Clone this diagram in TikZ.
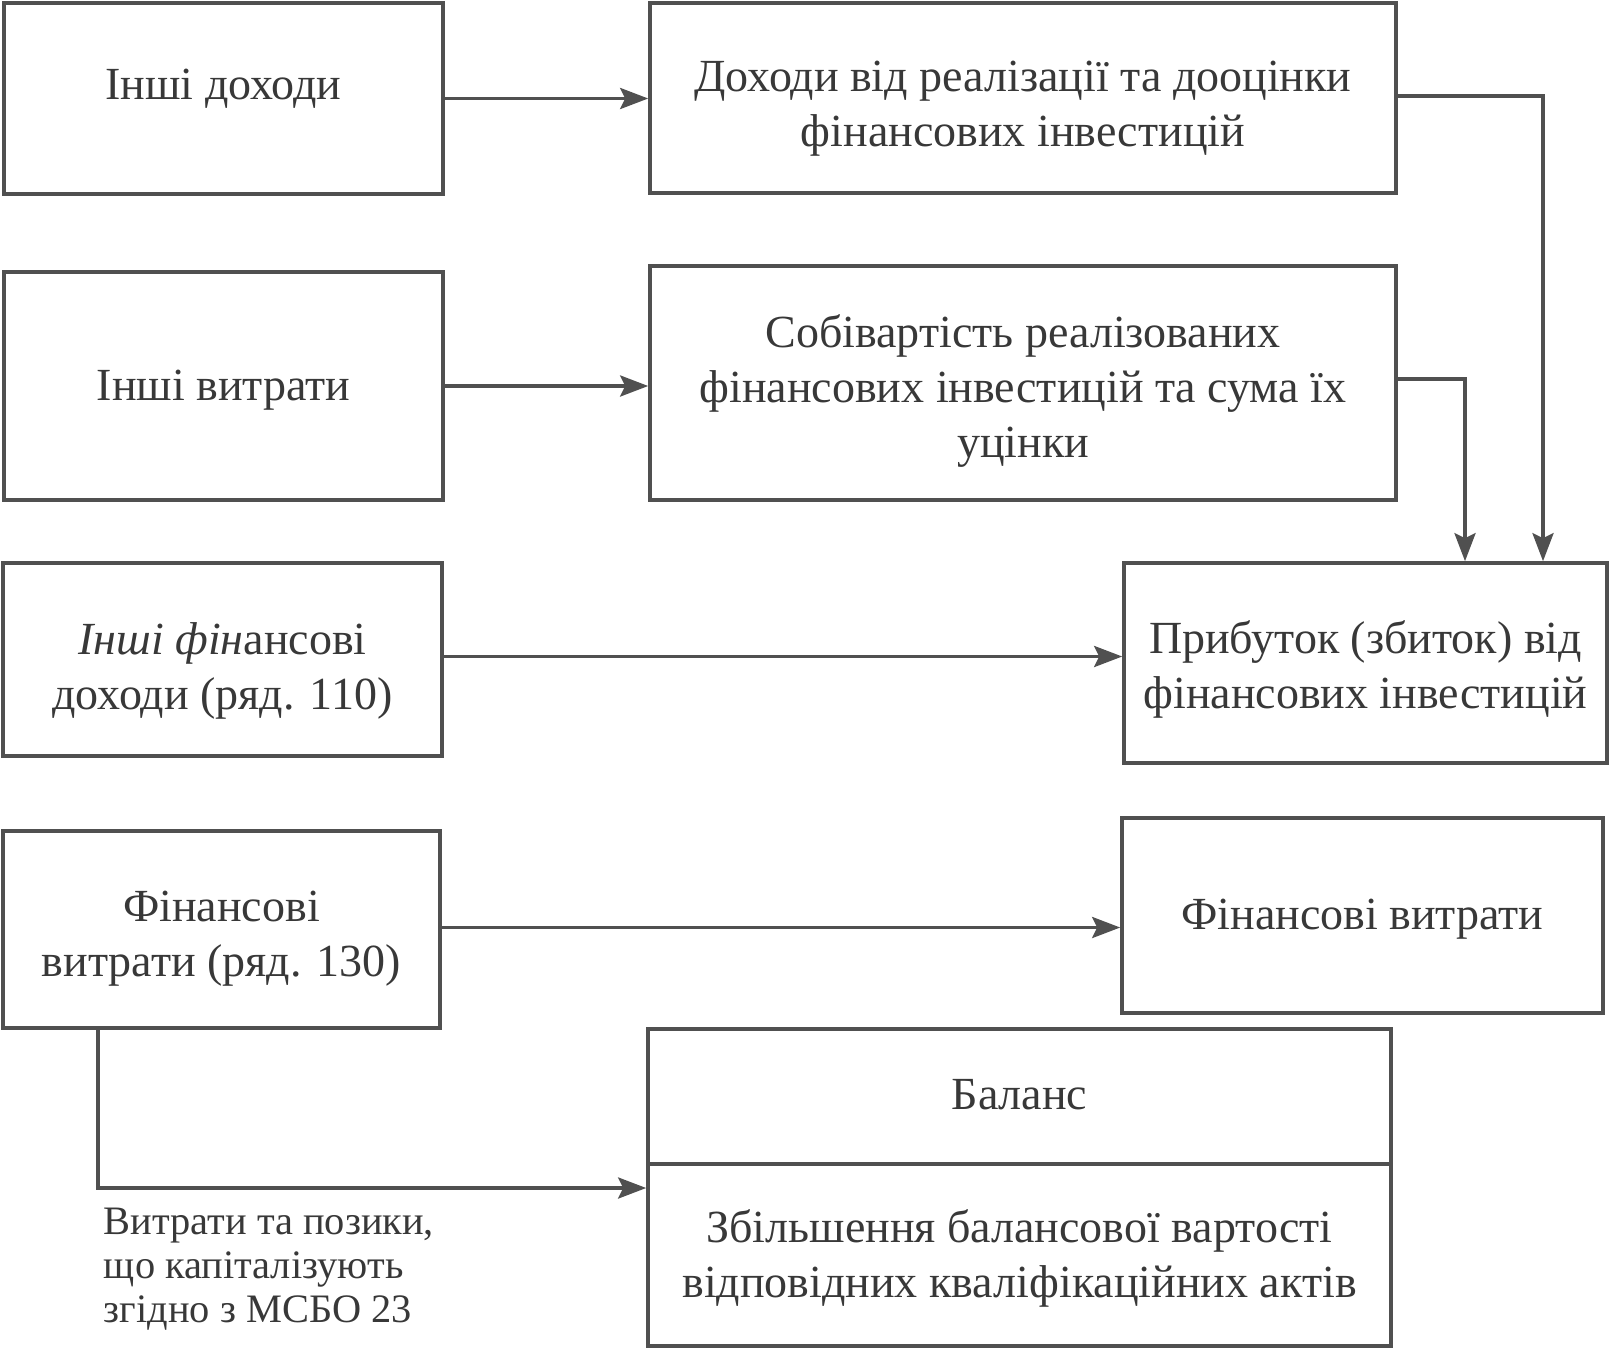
\documentclass[tikz,border=0pt]{standalone}
\usepackage{fontspec}
\setmainfont{Liberation Serif}
\usetikzlibrary{arrows.meta,calc}
\definecolor{ink}{HTML}{505050}
\definecolor{txtc}{HTML}{383838}
\begin{document}
\begin{tikzpicture}[x=0.5pt,y=-0.5pt,
  box/.style={draw=ink,line width=1.8pt,inner sep=0pt},
  tx/.style={inner sep=0pt,align=center,text=txtc,
    font=\fontsize{23}{27.5}\selectfont},
  arr/.style={draw=ink,line width=1.8pt,-{Stealth[length=14pt,width=10.5pt,inset=2.5pt]}},
  note/.style={inner sep=0pt,align=left,text=txtc,anchor=north west,
    font=\fontsize{20.2}{22}\selectfont}]
\useasboundingbox (0,0) rectangle (1611,1349);
\node[box,minimum width=219.5pt,minimum height=95.5pt,
  label={[tx,name=tA,yshift=4.7pt]center:Інші доходи}] (A) at (223.5,98.5) {};
\node[box,minimum width=219.5pt,minimum height=114pt,
  label={[tx,name=tB,yshift=-2pt]center:Інші витрати}] (B) at (223.5,386) {};
\node[box,minimum width=373pt,minimum height=95pt,
  label={[tx,name=tC,yshift=-5.1pt]center:Доходи від реалізації та дооцінки\\фінансових інвестицій}] (C) at (1023,98) {};
\node[box,minimum width=373pt,minimum height=117pt,
  label={[tx,name=tD,yshift=-4.1pt]center:Собівартість реалізованих\\фінансових інвестицій та сума їх\\уцінки}] (D) at (1023,383) {};
\node[box,minimum width=241.5pt,minimum height=100pt,
  label={[tx,name=tE,yshift=-3.1pt]center:Прибуток (збиток) від\\фінансових інвестицій}] (E) at (1365.5,663) {};
\node[box,minimum width=219.5pt,minimum height=96.5pt,
  label={[tx,name=tF,yshift=-5.6pt]center:\textit{Інші фін}ансові\\доходи (ряд. 110)}] (F) at (222.5,659.5) {};
\node[box,minimum width=218.5pt,minimum height=98.5pt,
  label={[tx,name=tG,yshift=-4.4pt]center:Фінансові\\витрати (ряд. 130)}] (G) at (221.5,929.5) {};
\node[box,minimum width=240.5pt,minimum height=97.5pt,
  label={[tx,name=tH,yshift=-2pt]center:Фінансові витрати}] (H) at (1362.5,915.5) {};
\node[box,minimum width=371.5pt,minimum height=67.5pt,
  label={[tx,name=tI1,yshift=1pt]center:Баланс}] (I1) at (1019.5,1096.5) {};
\node[box,minimum width=371.5pt,minimum height=91pt,
  label={[tx,name=tI2,yshift=-1.8pt]center:Збільшення балансової вартості\\відповідних кваліфікаційних актів}] (I2) at (1019.5,1255) {};
\node[note] (N) at (103.5,1208) {Витрати та позики,\\що капіталізують\\згідно з МСБО 23};
\draw[arr] (A.east) -- (A.east -| C.west);
\draw[arr] (B.east) -- (B.east -| D.west);
\draw[arr] ($(C.east)+(0,-2)$) -| ($(E.north)+(177.5,0)$);
\draw[arr] ($(D.east)+(0,-4)$) -| ($(E.north)+(99.5,0)$);
\draw[arr] ($(F.east)+(0,-3)$) -- ($(F.east -| E.west)+(0,-3)$);
\draw[arr] ($(G.east)+(0,-2)$) -- ($(G.east -| H.west)+(0,-2)$);
\draw[arr] ($(G.south)+(-123.5,0)$) |- ($(I2.west)+(0,-67)$);
\end{tikzpicture}
\end{document}
